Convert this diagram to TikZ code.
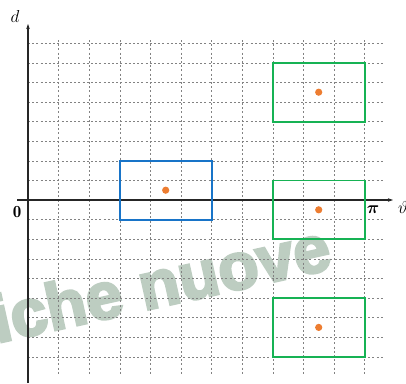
\documentclass[tikz,border=0pt]{standalone}
\usepackage{fontspec}
\usepackage{amsmath}
\usepackage{bm}
\newfontfamily\wmfont{Liberation Sans}[FakeBold=4]
\usetikzlibrary{arrows.meta}
\definecolor{gridgray}{RGB}{130,130,130}
\definecolor{boxblue}{RGB}{24,116,200}
\definecolor{boxgreen}{RGB}{22,178,84}
\definecolor{dotorange}{RGB}{237,125,49}
\definecolor{wmgreen}{RGB}{189,205,193}
\tikzset{
  gridline/.style={gridgray, line width=0.6pt, dash pattern=on 2pt off 2.2pt},
  axisline/.style={black!85, line width=1.4pt, -{Stealth[length=5pt,width=3.5pt]}},
  bluebox/.style={boxblue, line width=1.8pt},
  greenbox/.style={boxgreen, line width=1.8pt},
  centerdot/.style={fill=dotorange},
  lab/.style={inner sep=0pt, font=\fontsize{17}{19}\selectfont},
}
\begin{document}
\begin{tikzpicture}[x=1pt,y=-1pt]
\useasboundingbox (0,0) rectangle (406,383);
% watermark
\node[anchor=base west, rotate=12.5, inner sep=0pt, text=wmgreen,
      font=\wmfont\bfseries\fontsize{66}{72}\selectfont] (wm) at (-3,343) {iche nuove};
% grid
\foreach \k in {1,...,8}{
  \draw[gridline] (28,{200-19.6*\k}) -- (383,{200-19.6*\k});
  \draw[gridline] (28,{200+19.6*\k}) -- (383,{200+19.6*\k});
}
\foreach \k in {1,...,11}{
  \draw[gridline] ({28+30.6*\k},40) -- ({28+30.6*\k},375);
}
% axes
\coordinate (xs) at (17,200);
\coordinate (xe) at (393,200);
\coordinate (ys) at (28,383);
\coordinate (ye) at (28,24);
\draw[axisline] (xs) -- (xe);
\draw[axisline] (ys) -- (ye);
% labels
\node[lab] (dlab) at (15,16) {$d$};
\node[lab] (zero) at (17,212) {$\mathbf{0}$};
\node[lab] (pilab) at (373,210) {$\bm{\pi}$};
\node[lab] (thlab) at (403,207) {$\vartheta$};
% rectangles: grid x = 28+30.6*i, y = 200-19.6*j
\draw[bluebox] ({28+30.6*3},{200-19.6*2}) rectangle ({28+30.6*6},{200+19.6*1});
\draw[greenbox] ({28+30.6*8},{200-19.6*7}) rectangle ({28+30.6*11},{200-19.6*4});
\draw[greenbox] ({28+30.6*8},{200-19.6*1}) rectangle ({28+30.6*11},{200+19.6*2});
\draw[greenbox] ({28+30.6*8},{200+19.6*5}) rectangle ({28+30.6*11},{200+19.6*8});
% dots
\fill[centerdot] ({28+30.6*4.5},{200-19.6*0.5}) circle (3.6pt);
\fill[centerdot] ({28+30.6*9.5},{200-19.6*5.5}) circle (3.6pt);
\fill[centerdot] ({28+30.6*9.5},{200+19.6*0.5}) circle (3.6pt);
\fill[centerdot] ({28+30.6*9.5},{200+19.6*6.5}) circle (3.6pt);
\end{tikzpicture}
\end{document}
